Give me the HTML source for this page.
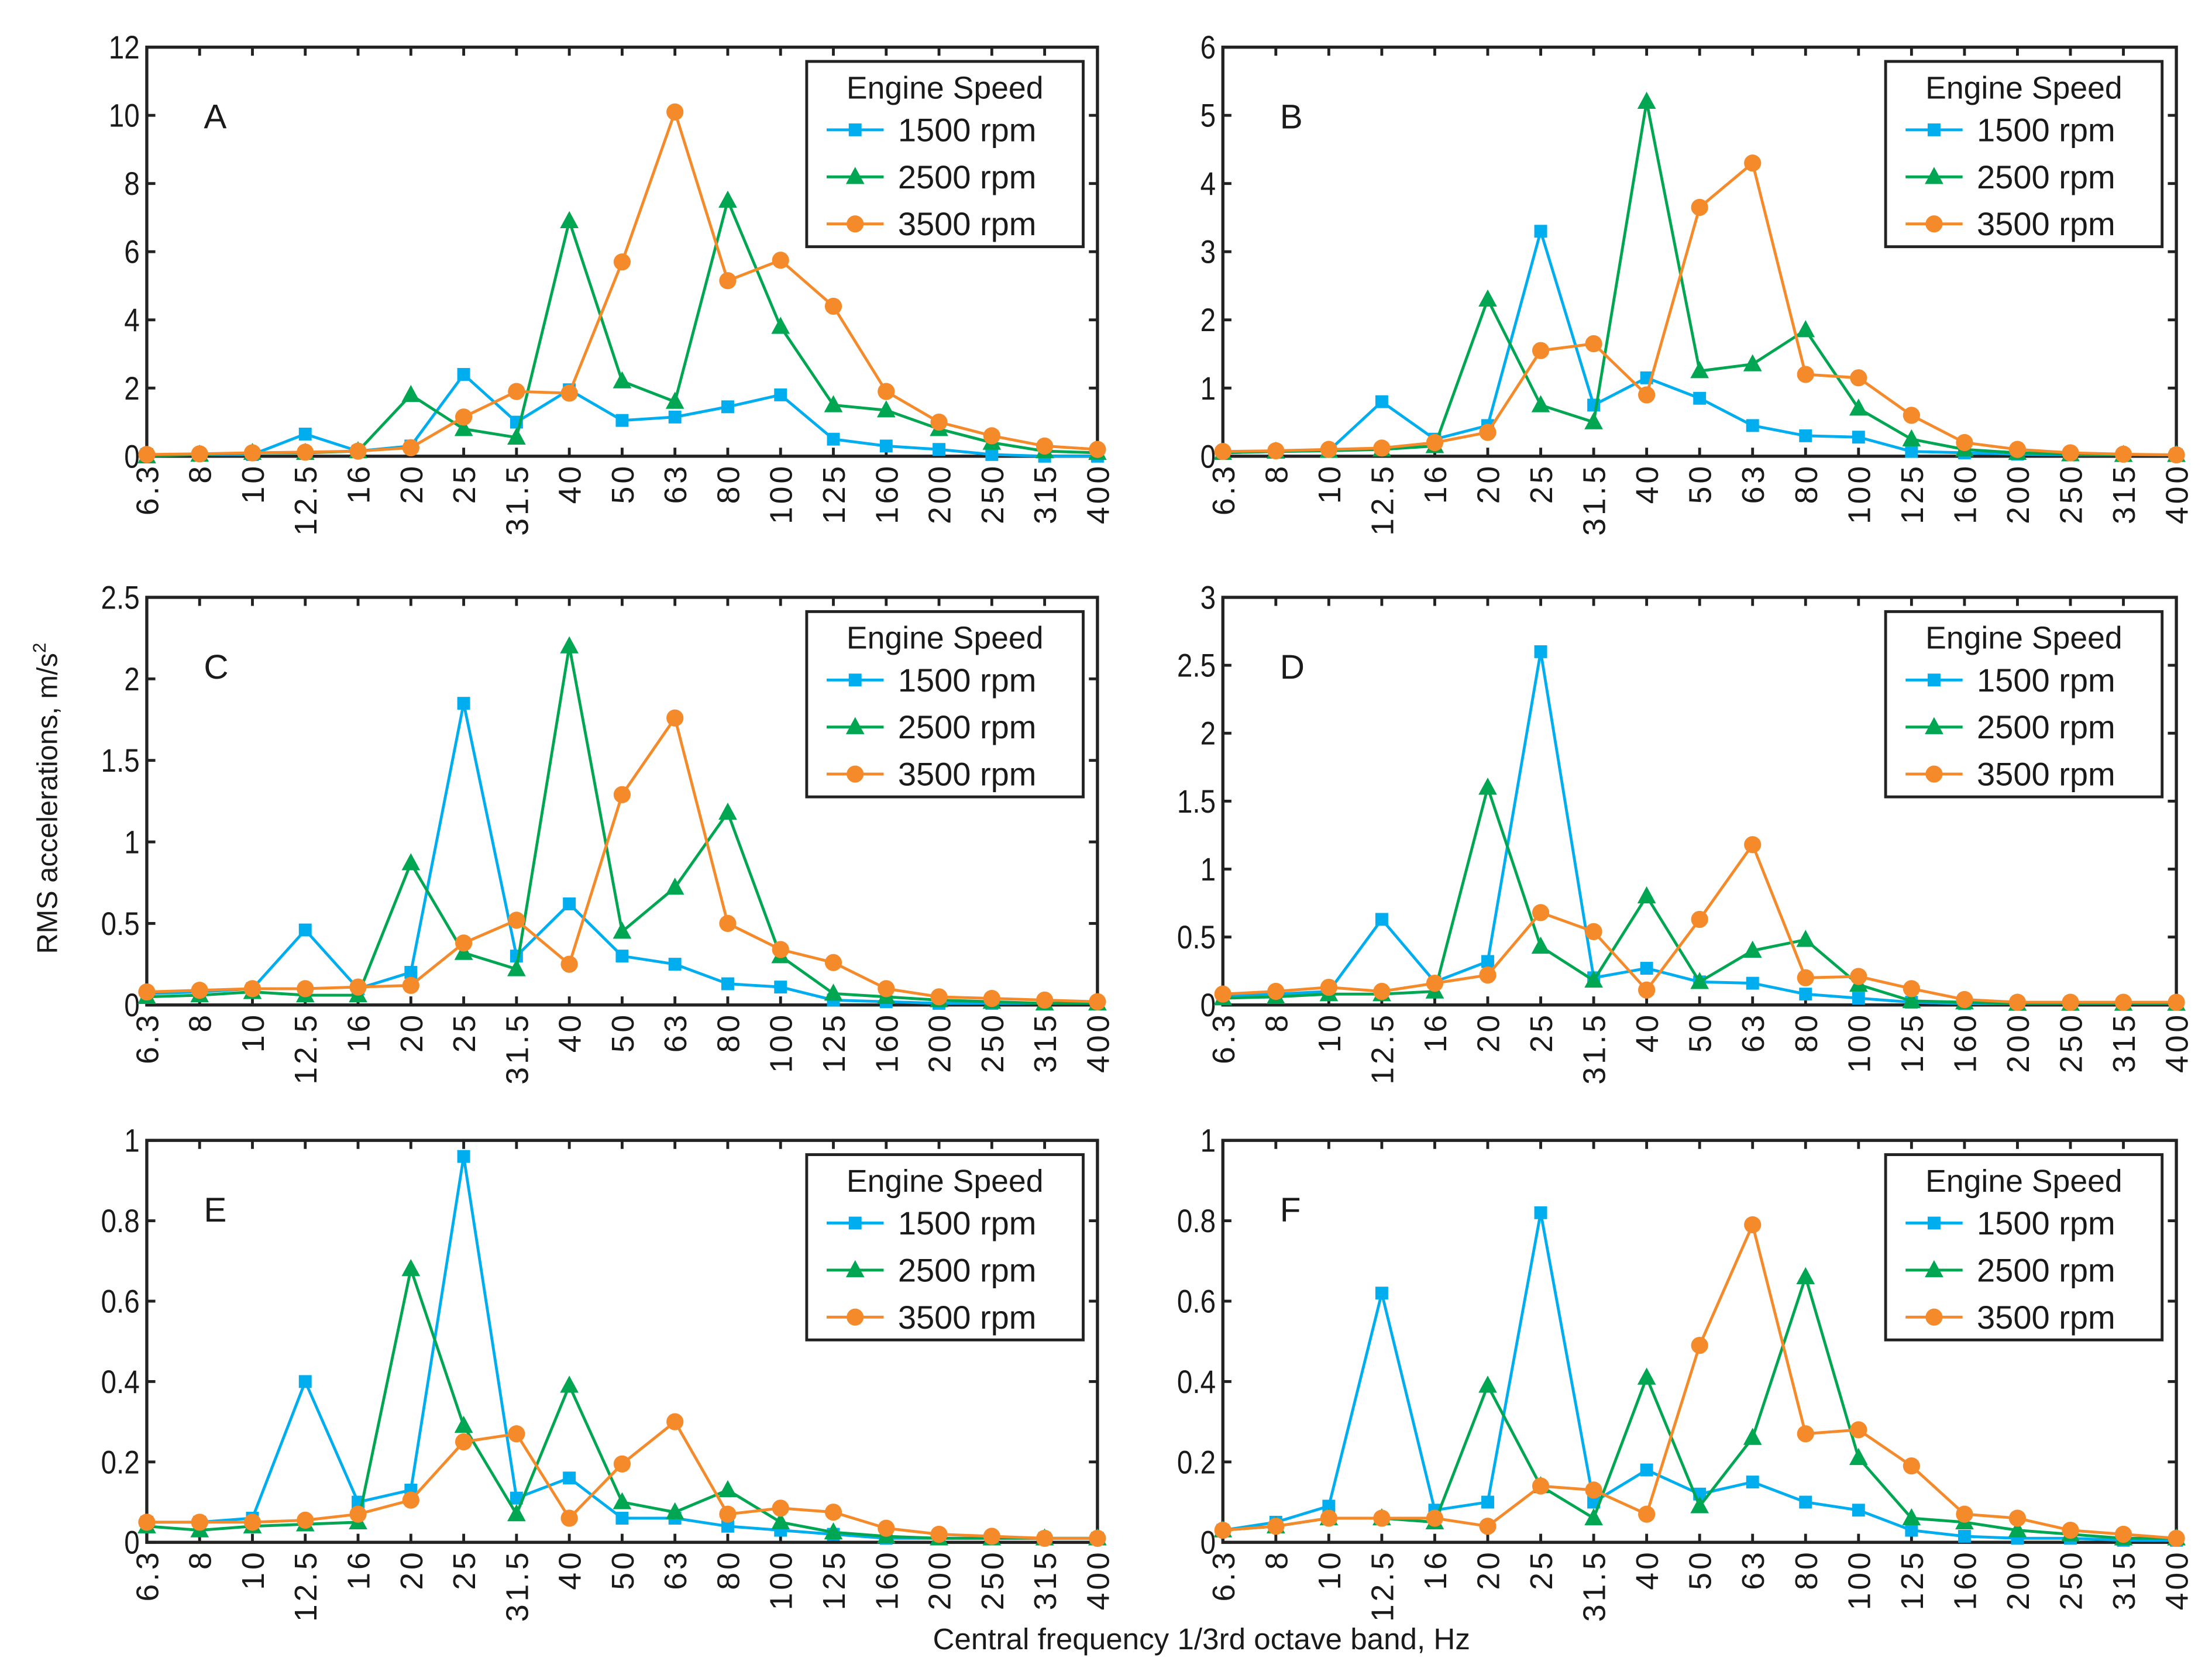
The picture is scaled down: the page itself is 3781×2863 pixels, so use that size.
<!DOCTYPE html>
<html><head><meta charset="utf-8"><style>
html,body{margin:0;padding:0;background:#fff}
svg{display:block}
text{font-family:"Liberation Sans",sans-serif;fill:#1a1a1a}
</style></head><body>
<svg id="fig" width="3781" height="2863" viewBox="0 0 1552 1175" xmlns="http://www.w3.org/2000/svg">
<text transform="translate(40,560) rotate(-90)" text-anchor="middle" font-size="20">RMS accelerations, m/s<tspan font-size="13" dy="-8">2</tspan></text>
<text x="843" y="1157" text-anchor="middle" font-size="21">Central frequency 1/3rd octave band, Hz</text>
</svg>
<script>
const categories=["6.3","8","10","12.5","16","20","25","31.5","40","50","63","80","100","125","160","200","250","315","400"];
const seriesNames=["1500 rpm","2500 rpm","3500 rpm"];
const panelLabels=["A","B","C","D","E","F"];
const yMax=[12,6,2.5,3,1,1];
const yStep=[2,1,0.5,0.5,0.2,0.2];
const A1500=[0.05,0.05,0.05,0.65,0.15,0.3,2.4,1.0,1.95,1.05,1.15,1.45,1.8,0.5,0.3,0.2,0.05,0.0,0.0];
const A2500=[0,0.05,0.1,0.1,0.15,1.8,0.8,0.55,6.9,2.2,1.6,7.5,3.8,1.5,1.35,0.8,0.4,0.15,0.1];
const A3500=[0.05,0.07,0.1,0.12,0.15,0.25,1.15,1.9,1.85,5.7,10.1,5.15,5.75,4.4,1.9,1.0,0.6,0.3,0.2];
const B1500=[0.05,0.07,0.08,0.8,0.25,0.45,3.3,0.75,1.15,0.85,0.45,0.3,0.28,0.07,0.05,0.03,0.02,0.02,0.02];
const B2500=[0.05,0.07,0.08,0.1,0.15,2.3,0.75,0.5,5.2,1.25,1.35,1.85,0.7,0.25,0.1,0.05,0.03,0.02,0.02];
const B3500=[0.07,0.08,0.1,0.12,0.2,0.35,1.55,1.65,0.9,3.65,4.3,1.2,1.15,0.6,0.2,0.1,0.05,0.03,0.02];
const C1500=[0.07,0.08,0.1,0.46,0.1,0.2,1.85,0.3,0.62,0.3,0.25,0.13,0.11,0.03,0.02,0.01,0.01,0.01,0.01];
const C2500=[0.05,0.06,0.08,0.06,0.06,0.87,0.32,0.22,2.2,0.45,0.72,1.18,0.3,0.07,0.05,0.03,0.02,0.01,0.01];
const C3500=[0.08,0.09,0.1,0.1,0.11,0.12,0.38,0.52,0.25,1.29,1.76,0.5,0.34,0.26,0.1,0.05,0.04,0.03,0.02];
const D1500=[0.07,0.08,0.1,0.63,0.17,0.32,2.6,0.2,0.27,0.17,0.16,0.08,0.05,0.02,0.01,0.01,0.01,0.01,0.01];
const D2500=[0.05,0.06,0.08,0.08,0.1,1.6,0.43,0.18,0.8,0.17,0.4,0.48,0.15,0.03,0.02,0.01,0.01,0.01,0.01];
const D3500=[0.08,0.1,0.13,0.1,0.16,0.22,0.68,0.54,0.11,0.63,1.18,0.2,0.21,0.12,0.04,0.02,0.02,0.02,0.02];
const E1500=[0.05,0.05,0.06,0.4,0.1,0.13,0.96,0.11,0.16,0.06,0.06,0.04,0.03,0.02,0.01,0.01,0.01,0.01,0.01];
const E2500=[0.04,0.03,0.04,0.045,0.05,0.68,0.29,0.07,0.39,0.1,0.075,0.13,0.05,0.025,0.015,0.01,0.01,0.01,0.01];
const E3500=[0.05,0.05,0.05,0.055,0.07,0.105,0.25,0.27,0.06,0.195,0.3,0.07,0.085,0.075,0.035,0.02,0.015,0.01,0.01];
const F1500=[0.03,0.05,0.09,0.62,0.08,0.1,0.82,0.1,0.18,0.12,0.15,0.1,0.08,0.03,0.015,0.01,0.01,0.005,0.005];
const F2500=[0.03,0.04,0.06,0.06,0.05,0.39,0.14,0.06,0.41,0.09,0.26,0.66,0.21,0.06,0.05,0.03,0.02,0.01,0.01];
const F3500=[0.03,0.04,0.06,0.06,0.06,0.04,0.14,0.13,0.07,0.49,0.79,0.27,0.28,0.19,0.07,0.06,0.03,0.02,0.01];
const panelData=[[A1500,A2500,A3500],[B1500,B2500,B3500],[C1500,C2500,C3500],[D1500,D2500,D3500],[E1500,E2500,E3500],[F1500,F2500,F3500]];

const colors=["#00aeef","#00a651","#f58a2a"];
const NS="http://www.w3.org/2000/svg";
const svg=document.getElementById("fig");
function el(tag,attrs,parent){const e=document.createElementNS(NS,tag);for(const k in attrs)e.setAttribute(k,attrs[k]);(parent||svg).appendChild(e);return e;}
function marker(g,k,x,y,c){
  if(k===0){const m=el("rect",{x:x-4.5,y:y-4.5,width:9,height:9,fill:c},g);return m;}
  if(k===1){const m=el("polygon",{points:`${x},${y-7} ${x-6.5},${y+5} ${x+6.5},${y+5}`,fill:c},g);return m;}
  const m=el("circle",{cx:x,cy:y,r:6,fill:c},g);return m;
}
const cols=[[103,770],[858,1527]];
const rows=[[33,320],[419,705],[800,1082]];
panelData.forEach((series,p)=>{
  const [x0,x1]=cols[p%2],[y0,y1]=rows[Math.floor(p/2)];
  const g=el("g",{});
  
  
  const xs=i=>x0+(x1-x0)*i/(categories.length-1);
  const ys=v=>y1-(y1-y0)*v/yMax[p];
  const frame=el("rect",{x:x0,y:y0,width:x1-x0,height:y1-y0,fill:"none",stroke:"#222","stroke-width":2.2},g);
  
  const nT=Math.round(yMax[p]/yStep[p]);
  for(let t=0;t<=nT;t++){
    const v=t*yStep[p],y=ys(v);
    el("line",{x1:x0,x2:x0+6,y1:y,y2:y,stroke:"#222","stroke-width":2},g);
    el("line",{x1:x1,x2:x1-6,y1:y,y2:y,stroke:"#222","stroke-width":2},g);
    const tl=el("text",{x:x0-5,y:y+8,"text-anchor":"end","font-size":23,transform:`translate(${(x0-5)*0.15},0) scale(0.85,1)`},g);
    tl.setAttribute('x',(x0-5)/0.85-(x0-5)*0.15/0.85);
    tl.textContent=String(+v.toFixed(1));
    
  }
  categories.forEach((c,i)=>{
    const x=xs(i);
    el("line",{x1:x,x2:x,y1:y0,y2:y0+6,stroke:"#222","stroke-width":2},g);
    el("line",{x1:x,x2:x,y1:y1,y2:y1-6,stroke:"#222","stroke-width":2},g);
    const tl=el("text",{transform:`translate(${x+8},${y1+5}) rotate(-90)`,"text-anchor":"end","font-size":22,"letter-spacing":"2"},g);
    tl.textContent=c;
    
  });
  series.forEach((vals,k)=>{
    const pts=vals.map((v,i)=>xs(i)+","+ys(v)).join(" ");
    const pl=el("polyline",{points:pts,fill:"none",stroke:colors[k],"stroke-width":2},g);
    
    
    vals.forEach((v,i)=>marker(g,k,xs(i),ys(v),colors[k]));
  });
  const lab=el("text",{x:x0+40,y:y0+57,"font-size":24},g);
  lab.textContent=panelLabels[p];
  
  const lx=x1-204,ly=y0+10;
  const lg=el("g",{},g);
  
  el("rect",{x:lx,y:ly,width:194,height:130,fill:"#fff",stroke:"#222","stroke-width":2},lg);
  const tt=el("text",{x:lx+97,y:ly+26,"text-anchor":"middle","font-size":22},lg);
  tt.textContent="Engine Speed";
  
  seriesNames.forEach((n,k)=>{
    const yy=ly+48+k*33;
    const e=el("g",{},lg);
    
    el("line",{x1:lx+14,x2:lx+54,y1:yy,y2:yy,stroke:colors[k],"stroke-width":2},e);
    marker(e,k,lx+34,yy,colors[k]);
    const t=el("text",{x:lx+64,y:yy+8,"font-size":23},e);
    t.textContent=n;
  });
});
</script>
</body></html>
